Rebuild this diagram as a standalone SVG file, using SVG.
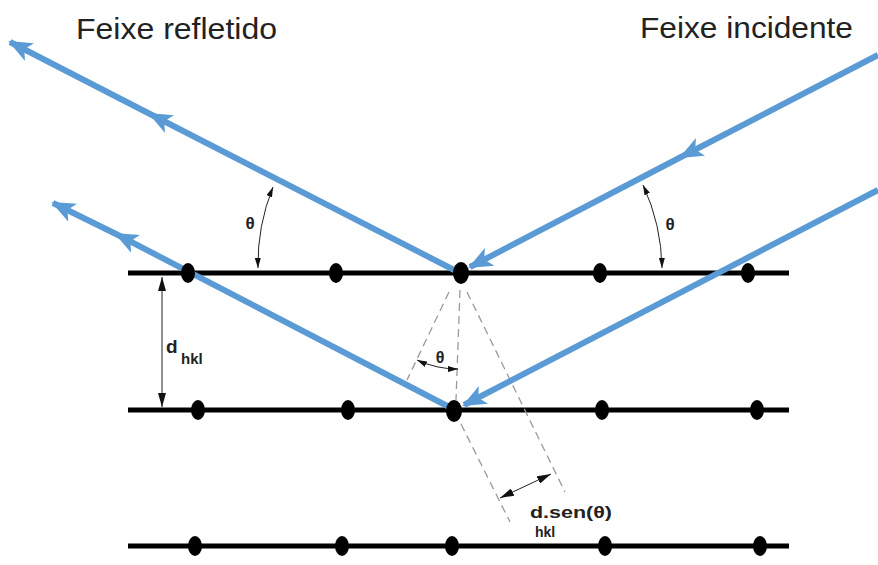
<svg xmlns="http://www.w3.org/2000/svg" width="878" height="565" viewBox="0 0 878 565">
<style>
.plane{stroke:#000;stroke-width:5;fill:none}
.atom{fill:#000}
.beam{stroke:#5b9bd5;stroke-width:6;fill:none;stroke-linecap:butt}
.dash{stroke:#9a9a9a;stroke-width:1.3;fill:none;stroke-dasharray:8 5}
.thin{stroke:#222;stroke-width:1;fill:none}
.title{font-family:"Liberation Sans",Arial,sans-serif;font-size:30px;fill:#222}
.lbl{font-family:"Liberation Sans",Arial,sans-serif;font-weight:bold;fill:#222}
</style>
<defs>
<marker id="ah" viewBox="0 0 24 20" refX="22" refY="10" markerWidth="24" markerHeight="20" orient="auto" markerUnits="userSpaceOnUse">
<path d="M0,0 L24,10 L0,20 L6,10 z" fill="#5b9bd5"/>
</marker>
<marker id="sa" viewBox="0 0 10 6" refX="10" refY="3" markerWidth="10" markerHeight="6" orient="auto-start-reverse" markerUnits="userSpaceOnUse">
<path d="M0,0 L10,3 L0,6 z" fill="#111"/>
</marker>
<marker id="da" viewBox="0 0 14 8" refX="14" refY="4" markerWidth="14" markerHeight="8" orient="auto-start-reverse" markerUnits="userSpaceOnUse">
<path d="M0,0 L14,4 L0,8 z" fill="#111"/>
</marker>
</defs>

<g id="titles">
<text class="title" x="76" y="39" textLength="201" lengthAdjust="spacingAndGlyphs">Feixe refletido</text>
<text class="title" x="640" y="38" textLength="213" lengthAdjust="spacingAndGlyphs">Feixe incidente</text>
</g>

<g id="planes">
<line class="plane" x1="128" y1="273" x2="789" y2="273"/>
<line class="plane" x1="128" y1="410" x2="789" y2="410"/>
<line class="plane" x1="128" y1="546" x2="789" y2="546"/>
</g>

<g id="dashes">
<line class="dash" x1="449" y1="292" x2="407" y2="380"/>
<line class="dash" x1="460" y1="290" x2="456" y2="400"/>
<line class="dash" x1="467" y1="292" x2="565" y2="492"/>
<line class="dash" x1="461" y1="424" x2="510" y2="522"/>
</g>

<g id="connectors">
<path class="beam" d="M460,273 L150,114 L10,42" marker-mid="url(#ah)" marker-end="url(#ah)"/>
<path class="beam" d="M455,410 L116,234 L53,203" marker-mid="url(#ah)" marker-end="url(#ah)"/>
<path class="beam" d="M878,55 L681,157 L470,267" marker-mid="url(#ah)" marker-end="url(#ah)"/>
<path class="beam" d="M878,190 L464,405" marker-end="url(#ah)"/>
</g>

<g id="atoms">
<ellipse class="atom" cx="188" cy="273" rx="7" ry="10"/>
<ellipse class="atom" cx="336" cy="273" rx="7" ry="10"/>
<ellipse class="atom" cx="461" cy="273" rx="8" ry="11"/>
<ellipse class="atom" cx="600" cy="273" rx="7" ry="10"/>
<ellipse class="atom" cx="748" cy="273" rx="7" ry="10"/>
<ellipse class="atom" cx="198" cy="410" rx="7" ry="10"/>
<ellipse class="atom" cx="348" cy="410" rx="7" ry="10"/>
<ellipse class="atom" cx="454" cy="411" rx="8" ry="11"/>
<ellipse class="atom" cx="602" cy="410" rx="7" ry="10"/>
<ellipse class="atom" cx="757" cy="410" rx="7" ry="10"/>
<ellipse class="atom" cx="195" cy="546" rx="7" ry="10"/>
<ellipse class="atom" cx="342" cy="546" rx="7" ry="10"/>
<ellipse class="atom" cx="452" cy="546" rx="7" ry="10"/>
<ellipse class="atom" cx="605" cy="546" rx="7" ry="10"/>
<ellipse class="atom" cx="760" cy="546" rx="7" ry="10"/>
</g>

<g id="angle-left">
<path class="thin" d="M273,187 A205,205 0 0 0 258,268" marker-start="url(#sa)" marker-end="url(#sa)"/>
<text class="lbl" x="250" y="229" font-size="17" text-anchor="middle">θ</text>
</g>
<g id="angle-right">
<path class="thin" d="M643,185 A203,203 0 0 1 662,268" marker-start="url(#sa)" marker-end="url(#sa)"/>
<text class="lbl" x="670" y="230" font-size="17" text-anchor="middle">θ</text>
</g>
<g id="angle-small">
<path class="thin" d="M417,360 A96,96 0 0 0 458,369" marker-start="url(#sa)" marker-end="url(#sa)"/>
<text class="lbl" x="440" y="363" font-size="16" text-anchor="middle">θ</text>
</g>

<g id="dhkl">
<line class="thin" x1="162" y1="277" x2="162" y2="407" marker-start="url(#da)" marker-end="url(#da)"/>
<text class="lbl" x="166" y="353" font-size="19">d</text>
<text class="lbl" x="181" y="364" font-size="15">hkl</text>
</g>

<g id="dsen">
<line class="thin" x1="500" y1="498" x2="551" y2="474" stroke-width="1.5" marker-start="url(#da)" marker-end="url(#da)"/>
<text class="lbl" x="530" y="518" font-size="17" textLength="82" lengthAdjust="spacingAndGlyphs">d.sen(θ)</text>
<text class="lbl" x="535" y="537" font-size="14">hkl</text>
</g>
</svg>
